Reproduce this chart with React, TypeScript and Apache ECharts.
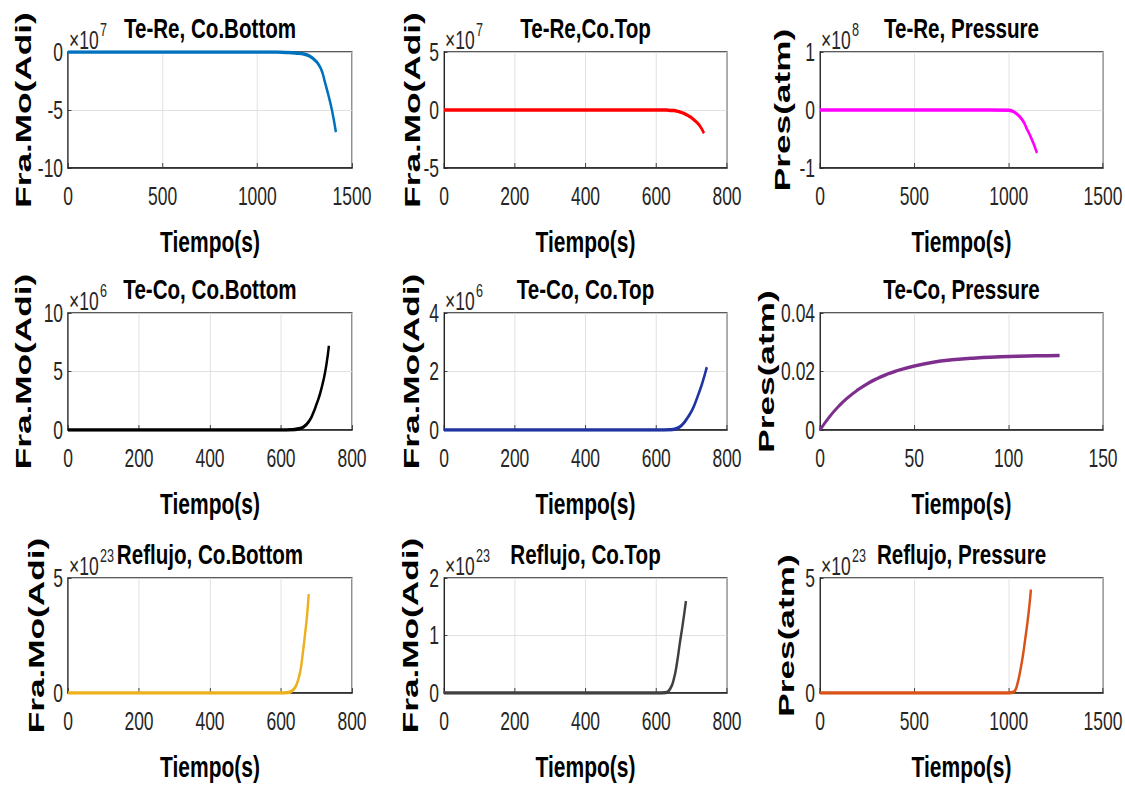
import React, { useEffect, useRef } from "react";
import * as echarts from "echarts";

// ---------- data (values in the units shown on each axis, i.e. already divided by the ×10^n factor) ----------
const p1T = [0, 300, 600, 900, 1100, 1150, 1200, 1250, 1280, 1300, 1320, 1340, 1357, 1375, 1394, 1415];
const p1V = [0, 0, 0, 0, -0.01, -0.04, -0.09, -0.2, -0.4, -0.65, -1.0, -1.6, -2.6, -3.7, -5.0, -6.9];

const p2T = [0, 300, 600, 630, 650, 665, 680, 692, 703, 714, 724, 735];
const p2V = [0, 0, 0, -0.01, -0.05, -0.15, -0.32, -0.52, -0.75, -1.05, -1.4, -2.0];

const p3T = [0, 400, 800, 1000, 1020, 1040, 1060, 1080, 1097, 1115, 1132, 1150];
const p3V = [0, 0, 0, -0.005, -0.02, -0.06, -0.12, -0.21, -0.33, -0.45, -0.58, -0.74];

const p4T = [0, 300, 600, 630, 650, 665, 680, 690, 700, 710, 720, 728, 735];
const p4V = [0, 0, 0, 0.02, 0.1, 0.3, 0.8, 1.4, 2.2, 3.1, 4.3, 5.6, 7.2];

const p5T = [0, 300, 600, 640, 660, 675, 690, 700, 710, 720, 730, 743];
const p5V = [0, 0, 0, 0.01, 0.06, 0.2, 0.45, 0.65, 0.92, 1.25, 1.6, 2.15];

const p6T = [0, 5, 10, 15, 20, 25, 30, 35, 40, 50, 60, 70, 80, 90, 100, 110, 120, 127];
const p6V = [0, 0.0045, 0.0082, 0.0112, 0.0137, 0.0158, 0.0175, 0.0189, 0.0201, 0.0219, 0.0232, 0.024, 0.0245, 0.0249, 0.0251, 0.0253, 0.0254, 0.0255];

const p7T = [0, 300, 600, 615, 630, 640, 648, 655, 662, 668, 673, 678];
const p7V = [0, 0, 0, 0.01, 0.08, 0.25, 0.55, 1.0, 1.8, 2.6, 3.3, 4.3];

const p8T = [0, 300, 600, 625, 640, 650, 658, 667, 675, 684];
const p8V = [0, 0, 0, 0.005, 0.08, 0.25, 0.5, 0.88, 1.2, 1.6];

const p9T = [0, 400, 800, 1000, 1020, 1035, 1048, 1060, 1075, 1087, 1100, 1110, 1118];
const p9V = [0, 0, 0, 0, 0.02, 0.12, 0.45, 0.9, 1.6, 2.3, 3.1, 3.8, 4.5];

const titles = [
  "Te-Re, Co.Bottom", "Te-Re,Co.Top", "Te-Re, Pressure",
  "Te-Co, Co.Bottom", "Te-Co, Co.Top", "Te-Co, Pressure",
  "Reflujo, Co.Bottom", "Reflujo, Co.Top", "Reflujo, Pressure",
];
const yNames = [
  "Fra.Mo(Adi)", "Fra.Mo(Adi)", "Pres(atm)",
  "Fra.Mo(Adi)", "Fra.Mo(Adi)", "Pres(atm)",
  "Fra.Mo(Adi)", "Fra.Mo(Adi)", "Pres(atm)",
];
const xName = "Tiempo(s)";
const exponents = ["7", "7", "8", "6", "6", "", "23", "23", "23"];
const seriesT = [p1T, p2T, p3T, p4T, p5T, p6T, p7T, p8T, p9T];
const seriesV = [p1V, p2V, p3V, p4V, p5V, p6V, p7V, p8V, p9V];
const xMax = [1500, 800, 1500, 800, 800, 150, 800, 800, 1500];
const xInterval = [500, 200, 500, 200, 200, 50, 200, 200, 500];
const yMin = [-10, -5, -1, 0, 0, 0, 0, 0, 0];
const yMax = [0, 5, 1, 10, 4, 0.04, 5, 2, 5];
const yInterval = [5, 5, 1, 5, 2, 0.02, 5, 1, 5];

// ---------- styles / layout ----------
const colors = ["#0072BD", "#FF0000", "#FF00FF", "#000000", "#1F34A0", "#7E2F8E", "#EDB120", "#404040", "#D95319"];
const S = 0.7; // horizontal squeeze of the whole figure
const W = Math.round(1125 / S);
const H = 789;
const colL = [68, 444, 820];
const colR = [352, 727, 1103];
const rowT = [52, 313, 578];
const rowB = [168, 430, 693];
const yNameGap = [45, 32, 38, 45, 33, 54, 32, 34, 34];
const FONT = "Liberation Sans, Arial, Helvetica, sans-serif";
const INK = "#262626";

const fmt = (v: number) => String(Number(v.toFixed(4)));

export default function App() {
  const ref = useRef<HTMLDivElement>(null);
  useEffect(() => {
    if (!ref.current) return;
    const chart = echarts.init(ref.current, undefined, { renderer: "svg" });
    const grids: any[] = [];
    const xAxes: any[] = [];
    const yAxes: any[] = [];
    const series: any[] = [];
    const graphics: any[] = [];
    for (let i = 0; i < 9; i++) {
      const r = Math.floor(i / 3);
      const c = i % 3;
      const left = colL[c] / S;
      const width = (colR[c] - colL[c]) / S;
      const top = rowT[r];
      const height = rowB[r] - rowT[r];
      grids.push({
        left, top, width, height,
        show: true, borderColor: INK, borderWidth: 1.5, backgroundColor: "#fff",
        containLabel: false, outerBoundsMode: "none",
      });
      xAxes.push({
        type: "value", gridIndex: i, min: 0, max: xMax[i], interval: xInterval[i],
        axisLine: { show: true, onZero: false, lineStyle: { color: INK, width: 1.5 } },
        axisTick: { show: true, inside: true, length: 5, lineStyle: { color: INK } },
        splitLine: { show: true, lineStyle: { color: "#dcdcdc", width: 1 } },
        axisLabel: { fontSize: 25, color: INK, margin: 16, fontFamily: FONT, showMinLabel: true, showMaxLabel: true, formatter: fmt },
      });
      yAxes.push({
        type: "value", gridIndex: i, min: yMin[i], max: yMax[i], interval: yInterval[i],
        axisLine: { show: true, onZero: false, lineStyle: { color: INK, width: 1.5 } },
        axisTick: { show: true, inside: true, length: 5, lineStyle: { color: INK } },
        splitLine: { show: true, lineStyle: { color: "#dcdcdc", width: 1 } },
        axisLabel: { fontSize: 25, color: INK, margin: 7, fontFamily: FONT, showMinLabel: true, showMaxLabel: true, formatter: fmt },
      });
      series.push({
        type: "line", xAxisIndex: i, yAxisIndex: i,
        data: seriesT[i].map((t, k) => [t, seriesV[i][k]]),
        showSymbol: false, smooth: 0.5,
        lineStyle: { color: colors[i], width: 3.5 }, itemStyle: { color: colors[i] },
        z: 3,
      });
      const cx = left + width / 2;
      graphics.push({
        type: "text", x: cx, y: top - 24, scaleX: 1.05,
        style: { text: titles[i], fontSize: 28, fontWeight: "bold", fontFamily: FONT, fill: "#000", align: "center", verticalAlign: "middle" },
      });
      graphics.push({
        type: "text", x: cx, y: rowB[r] + 74,
        style: { text: xName, fontSize: 30, fontWeight: "bold", fontFamily: FONT, fill: "#000", align: "center", verticalAlign: "middle" },
      });
      graphics.push({
        type: "text", x: (colL[c] - yNameGap[i]) / S, y: top + height / 2,
        rotation: Math.PI / 2, scaleX: 1.1,
        style: { text: yNames[i], fontSize: 32, fontWeight: "bold", fontFamily: FONT, fill: "#000", align: "center", verticalAlign: "middle" },
      });
      if (exponents[i]) {
        graphics.push({
          type: "text", x: (colL[c] + 1) / S, y: top - 12,
          style: { text: "×10", fontSize: 25, fontFamily: FONT, fill: INK, align: "left", verticalAlign: "middle" },
        });
        graphics.push({
          type: "text", x: (colL[c] + 32) / S, y: top - 22,
          style: { text: exponents[i], fontSize: 18, fontFamily: FONT, fill: INK, align: "left", verticalAlign: "middle" },
        });
      }
    }
    chart.setOption({
      animation: false,
      backgroundColor: "#fff",
      grid: grids,
      xAxis: xAxes,
      yAxis: yAxes,
      series,
      graphic: { elements: graphics },
    });
    return () => chart.dispose();
  }, []);
  return (
    <div style={{ position: "fixed", left: 0, top: 0, width: 1125, height: H, overflow: "hidden", background: "#fff" }}>
      <div style={{ width: W, height: H, transform: `scaleX(${S})`, transformOrigin: "0 0" }}>
        <div ref={ref} style={{ width: W, height: H }} />
      </div>
    </div>
  );
}
